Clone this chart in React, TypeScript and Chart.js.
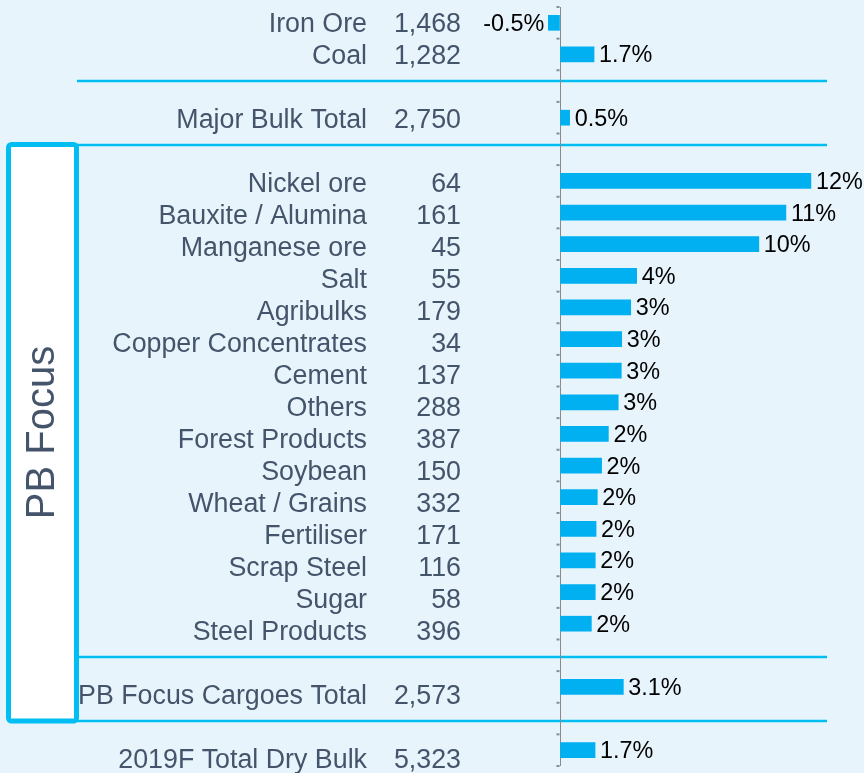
import React, { useEffect, useRef } from 'react';
import { Chart, registerables } from 'chart.js';

Chart.register(...registerables);

// ---- data ----
const cargoes = [
  'Iron Ore', 'Coal', 'Major Bulk Total',
  'Nickel ore', 'Bauxite / Alumina', 'Manganese ore', 'Salt', 'Agribulks',
  'Copper Concentrates', 'Cement', 'Others', 'Forest Products', 'Soybean',
  'Wheat / Grains', 'Fertiliser', 'Scrap Steel', 'Sugar', 'Steel Products',
  'PB Focus Cargoes Total', '2019F Total Dry Bulk',
];
const volumes = [
  '1,468', '1,282', '2,750',
  '64', '161', '45', '55', '179', '34', '137', '288', '387', '150', '332',
  '171', '116', '58', '396',
  '2,573', '5,323',
];
const growth = [
  -0.57, 1.66, 0.47,
  12.24, 11.02, 9.7, 3.74, 3.45, 3.01, 2.99, 2.84, 2.36, 2.03, 1.82,
  1.76, 1.72, 1.72, 1.53,
  3.09, 1.71,
];
const growthLabels = [
  '-0.5%', '1.7%', '0.5%',
  '12%', '11%', '10%', '4%', '3%', '3%', '3%', '3%', '2%', '2%', '2%',
  '2%', '2%', '2%', '2%',
  '3.1%', '1.7%',
];
// a blank (separator) row follows these items
const gapAfter = [1, 2, 17, 18];
const groupTitle = 'PB Focus';

// ---- style ----
const BG = '#e8f4fc';
const BAR = '#00b0f0';
const LINE = '#00bdf2';
const TEXT = '#44546a';
const FONT = '"Liberation Sans", Arial, sans-serif';

type Row = { name: string; volume: string; value: number; label: string } | null;

function buildRows(): Row[] {
  const rows: Row[] = [];
  cargoes.forEach((name, i) => {
    rows.push({ name, volume: volumes[i], value: growth[i], label: growthLabels[i] });
    if (gapAfter.includes(i)) rows.push(null);
  });
  return rows;
}

export default function App() {
  const ref = useRef<HTMLCanvasElement>(null);

  useEffect(() => {
    if (!ref.current) return;
    const rows = buildRows();
    const labels = rows.map((r) => (r ? r.name : ''));
    const data = rows.map((r) => (r ? r.value : null));
    const pct = rows.map((r) => (r ? r.label : ''));

    const tableTop = 23;
    const tableRow = 32;

    const backdrop = {
      id: 'backdrop',
      beforeDraw(chart: any) {
        const ctx = chart.ctx as CanvasRenderingContext2D;
        ctx.save();
        ctx.fillStyle = BG;
        ctx.fillRect(0, 0, chart.width, chart.height);

        // separator lines at the blank rows
        ctx.strokeStyle = LINE;
        ctx.lineWidth = 2.5;
        rows.forEach((r, k) => {
          if (r) return;
          const y = tableTop + tableRow * k - 6;
          ctx.beginPath();
          ctx.moveTo(77, y);
          ctx.lineTo(827, y);
          ctx.stroke();
        });

        // group box
        ctx.fillStyle = '#ffffff';
        ctx.beginPath();
        (ctx as any).roundRect(8.5, 144.5, 68, 576.5, 3);
        ctx.fill();
        ctx.lineWidth = 5;
        ctx.strokeStyle = LINE;
        ctx.stroke();

        ctx.save();
        ctx.translate(43, 432.5);
        ctx.rotate(-Math.PI / 2);
        ctx.fillStyle = TEXT;
        ctx.font = `40px ${FONT}`;
        ctx.textAlign = 'center';
        ctx.textBaseline = 'middle';
        ctx.fillText(groupTitle, 0, 0);
        ctx.restore();

        // table text
        ctx.fillStyle = TEXT;
        ctx.font = `26.8px ${FONT}`;
        ctx.textBaseline = 'middle';
        ctx.textAlign = 'right';
        rows.forEach((r, k) => {
          if (!r) return;
          const y = tableTop + tableRow * k + 2;
          ctx.fillText(r.name, 367, y);
          ctx.fillText(r.volume, 461, y);
        });
        ctx.restore();
      },
    };

    const annotate = {
      id: 'annotate',
      afterDatasetsDraw(chart: any) {
        const ctx = chart.ctx as CanvasRenderingContext2D;
        const yScale = chart.scales.y;
        const xScale = chart.scales.x;
        ctx.save();
        // tick dots on the zero axis at the category boundaries
        const step = yScale.getPixelForValue(1) - yScale.getPixelForValue(0);
        const x0 = xScale.getPixelForValue(0);
        ctx.fillStyle = '#8a8a8a';
        for (let i = 0; i <= labels.length; i++) {
          const y = yScale.getPixelForValue(0) - step / 2 + step * i;
          ctx.fillRect(x0 - 3.5, y - 1, 3, 2);
        }
        // value labels
        const meta = chart.getDatasetMeta(0);
        ctx.font = `23.4px ${FONT}`;
        ctx.fillStyle = '#000000';
        ctx.textBaseline = 'middle';
        meta.data.forEach((el: any, i: number) => {
          const lab = pct[i];
          if (!lab) return;
          const v = data[i] as number;
          if (v < 0) {
            ctx.textAlign = 'right';
            ctx.fillText(lab, el.x - 4, el.y + 1.5);
          } else {
            ctx.textAlign = 'left';
            ctx.fillText(lab, el.x + 5, el.y + 1.5);
          }
        });
        ctx.restore();
      },
    };

    const chart = new Chart(ref.current, {
      type: 'bar',
      data: {
        labels,
        datasets: [
          {
            data,
            backgroundColor: BAR,
            borderWidth: 0,
            barThickness: 15,
          },
        ],
      },
      options: {
        indexAxis: 'y',
        animation: false,
        responsive: false,
        devicePixelRatio: 1,
        layout: { padding: { left: 478, right: 17, top: 7, bottom: 7 } },
        plugins: {
          legend: { display: false },
          tooltip: { enabled: false },
          title: { display: false },
        },
        scales: {
          y: {
            type: 'category',
            display: false,
            offset: true,
          },
          x: {
            type: 'linear',
            min: -4,
            max: 14,
            display: true,
            ticks: { display: false, stepSize: 2 },
            border: { display: false },
            grid: {
              drawTicks: false,
              lineWidth: 1,
              color: (c: any) => (c.tick && c.tick.value === 0 ? '#8a8a8a' : 'rgba(0,0,0,0)'),
            },
          },
        },
      },
      plugins: [backdrop, annotate],
    } as any);

    return () => chart.destroy();
  }, []);

  return (
    <div style={{ position: 'absolute', left: 0, top: 0, width: 864, height: 773 }}>
      <canvas ref={ref} width={864} height={773} style={{ display: 'block' }} />
    </div>
  );
}
